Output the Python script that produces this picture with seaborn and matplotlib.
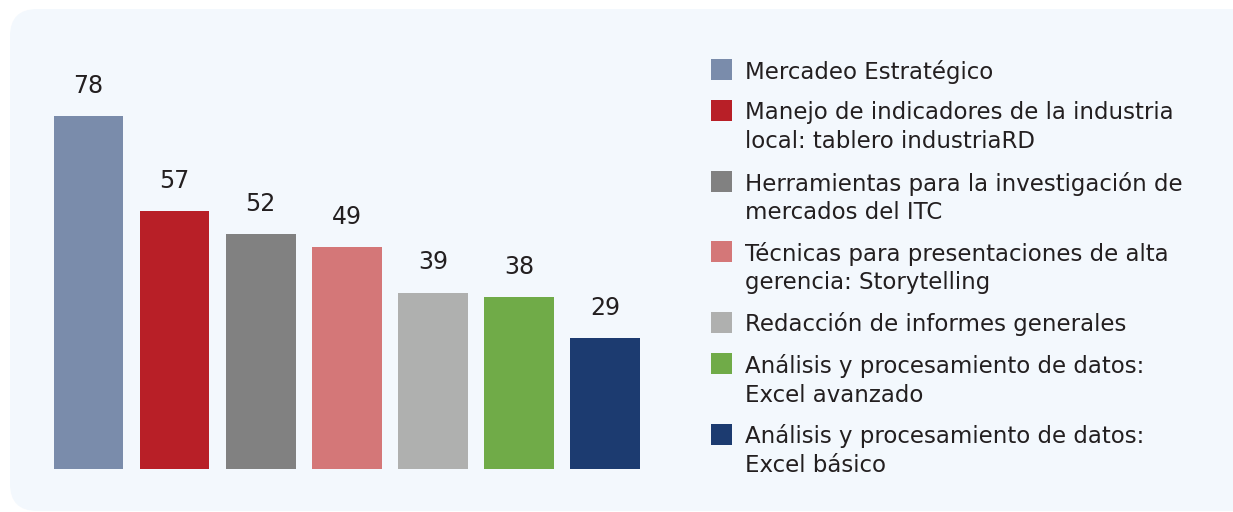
import matplotlib
matplotlib.use("Agg")
import matplotlib.pyplot as plt
import seaborn as sns
import pandas as pd
from matplotlib.patches import FancyBboxPatch, Rectangle

categories = [
    "Mercadeo Estratégico",
    "Manejo de indicadores de la industria\nlocal: tablero industriaRD",
    "Herramientas para la investigación de\nmercados del ITC",
    "Técnicas para presentaciones de alta\ngerencia: Storytelling",
    "Redacción de informes generales",
    "Análisis y procesamiento de datos:\nExcel avanzado",
    "Análisis y procesamiento de datos:\nExcel básico",
]
values = [78, 57, 52, 49, 39, 38, 29]
colors = ["#7A8CAB", "#B81F27", "#818181", "#D47778", "#AFB0AF", "#70AB48", "#1C3B70"]

TEXT = "#231F20"
PANEL = "#F3F8FD"
W, H = 1233, 512

sns.set_theme(style="white")
plt.rcParams['font.family'] = ['DejaVu Sans']

fig = plt.figure(figsize=(W / 100, H / 100), dpi=100)
fig.patch.set_facecolor("white")

# rounded background panel, kept behind the axes
panel = FancyBboxPatch((10 / W, 1 / H), 1260 / W, 502 / H,
                       boxstyle="round,pad=0,rounding_size=0.022",
                       transform=fig.transFigure, facecolor=PANEL,
                       edgecolor="none", mutation_aspect=W / H, zorder=-5)
fig.patches.append(panel)

ax = fig.add_axes([45.5 / W, 43 / H, 602.5 / W, 407.3 / H])
ax.set_facecolor("none")
ax.set_zorder(2)

df = pd.DataFrame({"cat": categories, "val": values})
sns.barplot(data=df, x="cat", y="val", hue="cat", palette=colors,
            width=0.81, saturation=1, legend=False, linewidth=0,
            edgecolor="none", ax=ax)
for c in ax.containers:
    ax.bar_label(c, padding=13, fontsize=17, color=TEXT)

ax.set_xlim(-0.5, 6.5)
ax.set_ylim(0, 90)
ax.set_xticks([])
ax.set_yticks([])
ax.set_xlabel("")
ax.set_ylabel("")
sns.despine(ax=ax, left=True, bottom=True)

# legend drawn by hand: square + wrapped label, first line aligned with square
y = 69
for lab, col in zip(categories, colors):
    fig.patches.append(Rectangle((711 / W, 1 - (y + 10.5) / H), 21 / W, 21 / H,
                                 transform=fig.transFigure, facecolor=col,
                                 edgecolor="none"))
    lines = lab.split("\n")
    for i, ln in enumerate(lines):
        fig.text(745 / W, 1 - (y + 29 * i) / H, ln, fontsize=16.5, color=TEXT,
                 ha="left", va="center_baseline")
    y += 29 * (len(lines) - 1) + 41.5

fig.savefig("out.png", dpi=100, facecolor="white")
